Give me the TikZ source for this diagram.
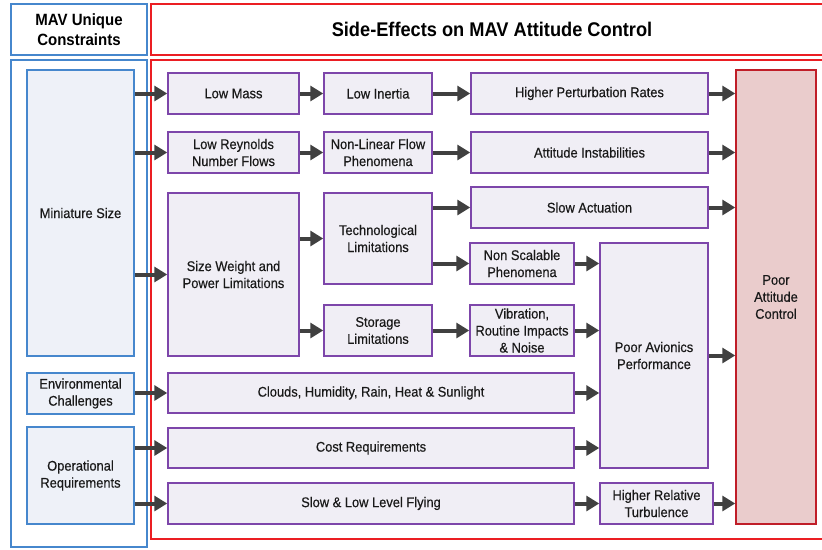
\documentclass[tikz,border=0pt]{standalone}
\usepackage{fontspec}
\setmainfont[FakeStretch=0.92]{Liberation Sans}
\newfontfamily\boxfont[FakeStretch=0.92, FakeBold=0.35]{Liberation Sans}
\usetikzlibrary{arrows.meta}
\definecolor{boxpurple}{RGB}{125,70,170}
\definecolor{boxfill}{RGB}{240,238,245}
\definecolor{boxblue}{RGB}{70,135,205}
\definecolor{bluefill}{RGB}{238,241,248}
\definecolor{framered}{RGB}{235,30,35}
\definecolor{pacfill}{RGB}{234,204,204}
\definecolor{pacred}{RGB}{192,30,40}
\definecolor{arrgray}{RGB}{64,64,64}

\begin{document}
\begin{tikzpicture}[x=1pt, y=-1pt,
    txt/.style={align=center, font=\boxfont\fontsize{14}{17}\selectfont, inner sep=1pt, text=black!90},
    pbox/.style={txt, draw=boxpurple, fill=boxfill, line width=1.5pt},
    bbox/.style={txt, draw=boxblue, fill=bluefill, line width=1.5pt},
    arr/.style={draw=arrgray, line width=4pt, -{Triangle[length=13pt,width=15pt]}}]
    \useasboundingbox[fill=white] (0,0) rectangle (822,549);
    % frames and headers
    \node[draw=boxblue, line width=1.5pt, minimum width=136, minimum height=51, align=center,
        font=\bfseries\fontsize{16.3}{20}\selectfont] (headblue) at (79,29.5) {MAV Unique\\Constraints};
    \node[draw=framered, line width=1.8pt, minimum width=672, minimum height=51] (headred) at (487,29.5) {};
    \node[font=\bfseries\fontsize{19.8}{22}\selectfont] (title) at (492,29) {Side-Effects on MAV Attitude Control};
    \node[draw=boxblue, line width=1.5pt, minimum width=136, minimum height=487] (contblue) at (79,303.5) {};
    \node[draw=framered, line width=1.8pt, minimum width=672, minimum height=479] (contred) at (487,299.5) {};
    % constraints
    \node[bbox, minimum width=107, minimum height=286] (mini) at (80.5,213) {};
    \node[txt] (minitxt) at (80.5,213) {Miniature Size};
    \node[bbox, minimum width=107, minimum height=41] (env) at (80.5,393.5) {Environmental\\Challenges};
    \node[bbox, minimum width=107, minimum height=97] (oper) at (80.5,475.5) {Operational\\Requirements};
    % side-effects
    \node[pbox, minimum width=131, minimum height=41] (lowmass) at (233.5,93.5) {Low Mass};
    \node[pbox, minimum width=108, minimum height=41] (lowinertia) at (378,93.5) {Low Inertia};
    \node[pbox, minimum width=237, minimum height=41] (hpr) at (589.5,93.5) {Higher Perturbation Rates};
    \node[pbox, minimum width=131, minimum height=41] (lowrey) at (233.5,152.5) {Low Reynolds\\Number Flows};
    \node[pbox, minimum width=108, minimum height=41] (nonlin) at (378,152.5) {Non-Linear Flow\\Phenomena};
    \node[pbox, minimum width=237, minimum height=41] (instab) at (589.5,152.5) {Attitude Instabilities};
    \node[pbox, minimum width=131, minimum height=163] (swap) at (233.5,274.5) {Size Weight and\\Power Limitations};
    \node[pbox, minimum width=108, minimum height=91] (tech) at (378,238.5) {Technological\\Limitations};
    \node[pbox, minimum width=108, minimum height=51] (storage) at (378,330.5) {Storage\\Limitations};
    \node[pbox, minimum width=237, minimum height=41] (slowact) at (589.5,207.5) {Slow Actuation};
    \node[pbox, minimum width=104, minimum height=41] (nonscal) at (522,263.5) {Non Scalable\\Phenomena};
    \node[pbox, minimum width=104, minimum height=51] (vib) at (522,330.5) {Vibration,\\Routine Impacts\\\& Noise};
    \node[pbox, minimum width=108, minimum height=225] (pav) at (654,355.5) {Poor Avionics\\Performance};
    \node[pbox, minimum width=406, minimum height=40] (clouds) at (371,393) {Clouds, Humidity, Rain, Heat \& Sunlight};
    \node[pbox, minimum width=406, minimum height=40] (cost) at (371,448) {Cost Requirements};
    \node[pbox, minimum width=406, minimum height=41] (flying) at (371,503.5) {Slow \& Low Level Flying};
    \node[pbox, minimum width=113, minimum height=41] (hrt) at (656.5,503.5) {Higher Relative\\Turbulence};
    \node[txt, draw=pacred, fill=pacfill, line width=1.5pt, minimum width=80, minimum height=454] (pac) at (776,297) {Poor\\Attitude\\Control};
    % arrows
    \foreach \a/\b in {lowmass/lowinertia, lowinertia/hpr, hpr/pac, lowrey/nonlin, nonlin/instab,
        instab/pac, slowact/pac, nonscal/pav, vib/pav, clouds/pav, cost/pav, flying/hrt, hrt/pac,
        pav/pac, storage/vib}
        \draw[arr] (\a.east) -- (\a.east -| \b.west);
    \foreach \a/\b in {mini/lowmass, mini/lowrey, mini/swap, env/clouds, oper/cost, oper/flying,
        swap/tech, swap/storage, tech/slowact, tech/nonscal}
        \draw[arr] (\a.east |- \b) -- (\b.west);
\end{tikzpicture}
\end{document}
